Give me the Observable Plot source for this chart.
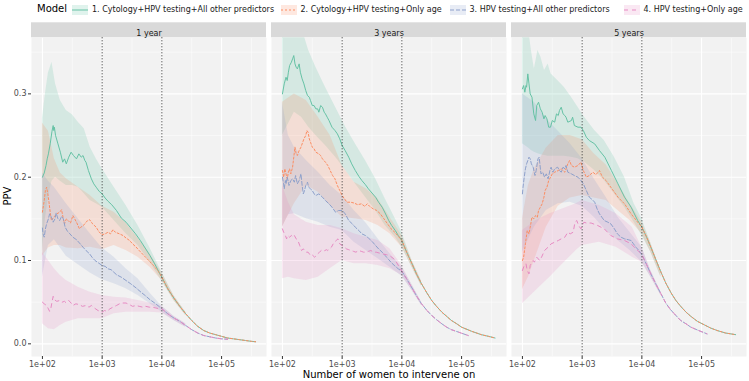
<!DOCTYPE html>
<html>
<head>
<meta charset="utf-8">
<script src="https://cdn.jsdelivr.net/npm/d3@7"></script>
<script src="https://cdn.jsdelivr.net/npm/@observablehq/plot@0.6"></script>
<style>
  body { margin: 0; background: #fff; font-family: "DejaVu Sans", sans-serif; }
  #fig { position: relative; width: 749px; height: 381px; overflow: hidden; background: #fff; }
  #legend { position: absolute; left: 0; top: 0; width: 749px; height: 20px; }
  .lg-title { position: absolute; left: 37px; top: 3px; font-size: 10px; color: #000; line-height: 12px; }
  .lg-item { position: absolute; top: 4px; height: 12px; display: flex; align-items: center; }
  .lg-item span { font-size: 8px; color: #1a1a1a; margin-left: 4px; white-space: nowrap; line-height: 12px; }
  #chart { position: absolute; left: 0; top: 20px; }
  #ylab { position: absolute; left: -8px; top: 190px; width: 32px; text-align: center; font-size: 10px; color: #000; transform: rotate(-90deg); line-height: 12px; }
  #xlab { position: absolute; left: 30px; top: 369px; width: 718px; text-align: center; font-size: 10px; color: #000; line-height: 12px; }
</style>
</head>
<body>
<div id="fig">
  <div id="legend"><div class="lg-title">Model</div></div>
  <div id="chart"></div>
  <div id="ylab">PPV</div>
  <div id="xlab">Number of women to intervene on</div>
</div>
<script>
// Facets (prediction horizon) and models
const horizons = ["1 year", "3 years", "5 years"];
const models = [
  "1. Cytology+HPV testing+All other predictors",
  "2. Cytology+HPV testing+Only age",
  "3. HPV testing+All other predictors",
  "4. HPV testing+Only age"
];
const palette = ["#66C2A5", "#FC8D62", "#8DA0CB", "#E78AC3"];
const dashes = [null, "2,2", "4,2", "4,4"];

// Tick values
const xTicks = [1e2, 1e3, 1e4, 1e5];
const xMinor = [10 ** 2.5, 10 ** 3.5, 10 ** 4.5, 10 ** 5.5];
const yTicks = [0, 0.1, 0.2, 0.3];
const yMinor = [0.05, 0.15, 0.25, 0.35];
const cutoffs = [1e3, 1e4];

// PPV curves: rows are [log10(number of women), PPV]
// ---- 1 year ----
const y1m1 = [[2.00,0.200],[2.03,0.205],[2.06,0.214],[2.08,0.222],[2.10,0.228],[2.13,0.240],[2.16,0.255],[2.18,0.262],[2.19,0.256],[2.20,0.260],[2.22,0.250],[2.26,0.240],[2.30,0.230],[2.34,0.218],[2.37,0.222],[2.40,0.216],[2.44,0.224],[2.48,0.230],[2.52,0.226],[2.57,0.222],[2.61,0.228],[2.65,0.224],[2.68,0.226],[2.71,0.220],[2.73,0.218],[2.77,0.208],[2.82,0.198],[2.86,0.192],[2.90,0.188],[2.95,0.183],[3.00,0.180],[3.05,0.175],[3.10,0.171],[3.16,0.167],[3.24,0.160],[3.32,0.151],[3.40,0.146],[3.48,0.139],[3.56,0.132],[3.64,0.124],[3.72,0.115],[3.80,0.106],[3.88,0.096],[3.96,0.085]];
const y1m2 = [[2.00,0.158],[2.03,0.172],[2.05,0.184],[2.07,0.188],[2.09,0.180],[2.11,0.170],[2.13,0.158],[2.15,0.148],[2.19,0.152],[2.24,0.156],[2.29,0.158],[2.32,0.161],[2.35,0.150],[2.37,0.144],[2.40,0.150],[2.43,0.148],[2.47,0.145],[2.51,0.154],[2.54,0.150],[2.57,0.146],[2.62,0.138],[2.66,0.141],[2.70,0.143],[2.74,0.147],[2.79,0.149],[2.84,0.144],[2.90,0.140],[2.95,0.134],[3.00,0.131],[3.05,0.132],[3.10,0.134],[3.14,0.132],[3.18,0.137],[3.22,0.134],[3.29,0.132],[3.35,0.130],[3.40,0.127],[3.46,0.124],[3.51,0.120],[3.57,0.116],[3.62,0.112],[3.70,0.106],[3.78,0.100],[3.86,0.094],[3.94,0.087]];
const y1m3 = [[2.00,0.139],[2.01,0.132],[2.03,0.128],[2.05,0.138],[2.07,0.144],[2.10,0.150],[2.12,0.156],[2.15,0.152],[2.18,0.146],[2.21,0.150],[2.23,0.157],[2.26,0.150],[2.29,0.148],[2.32,0.153],[2.35,0.150],[2.38,0.140],[2.42,0.135],[2.46,0.132],[2.51,0.128],[2.57,0.125],[2.62,0.121],[2.68,0.116],[2.73,0.112],[2.79,0.108],[2.83,0.104],[2.88,0.100],[2.94,0.097],[3.00,0.094],[3.05,0.093],[3.10,0.090],[3.15,0.089],[3.24,0.083],[3.32,0.080],[3.40,0.076],[3.48,0.072],[3.57,0.067],[3.65,0.062],[3.72,0.058],[3.80,0.053],[3.88,0.049],[3.95,0.045]];
const y1m4 = [[2.00,0.050],[2.03,0.048],[2.07,0.046],[2.10,0.042],[2.12,0.039],[2.14,0.042],[2.16,0.050],[2.18,0.057],[2.20,0.053],[2.24,0.051],[2.29,0.052],[2.33,0.050],[2.37,0.051],[2.40,0.049],[2.44,0.052],[2.48,0.049],[2.51,0.046],[2.56,0.048],[2.62,0.047],[2.67,0.045],[2.73,0.046],[2.78,0.044],[2.82,0.046],[2.87,0.043],[2.93,0.040],[3.00,0.038],[3.04,0.040],[3.08,0.039],[3.13,0.042],[3.18,0.044],[3.24,0.046],[3.29,0.048],[3.35,0.049],[3.40,0.049],[3.46,0.047],[3.51,0.045],[3.57,0.046],[3.62,0.045],[3.68,0.044],[3.73,0.045],[3.79,0.044],[3.84,0.044],[3.90,0.043],[3.96,0.042]];
// shared tails where models 1/2 and 3/4 coincide
const y1TailCyto = [[4.00,0.080],[4.10,0.066],[4.20,0.055],[4.30,0.045],[4.40,0.036],[4.50,0.028],[4.60,0.021],[4.70,0.016],[4.80,0.013],[4.90,0.011],[5.00,0.009],[5.10,0.007],[5.20,0.006],[5.30,0.005],[5.40,0.004],[5.50,0.003],[5.57,0.0025]];
const y1TailHpv = [[4.00,0.042],[4.10,0.036],[4.20,0.031],[4.30,0.027],[4.40,0.022],[4.50,0.017],[4.60,0.013],[4.70,0.010],[4.80,0.0085],[4.90,0.007],[5.00,0.006],[5.10,0.0055]];

// ---- 3 years ----
const y3m1 = [[2.00,0.300],[2.03,0.312],[2.06,0.320],[2.08,0.316],[2.10,0.326],[2.12,0.334],[2.15,0.338],[2.17,0.342],[2.19,0.346],[2.21,0.336],[2.23,0.332],[2.25,0.330],[2.28,0.336],[2.30,0.326],[2.33,0.318],[2.36,0.312],[2.39,0.304],[2.42,0.298],[2.45,0.296],[2.47,0.292],[2.50,0.286],[2.53,0.286],[2.56,0.282],[2.59,0.282],[2.61,0.278],[2.64,0.286],[2.67,0.284],[2.70,0.278],[2.72,0.276],[2.75,0.272],[2.78,0.268],[2.83,0.260],[2.88,0.256],[2.92,0.252],[2.96,0.246],[3.00,0.238],[3.05,0.232],[3.11,0.224],[3.16,0.216],[3.22,0.208],[3.28,0.201],[3.33,0.196],[3.39,0.191],[3.44,0.186],[3.50,0.181],[3.56,0.176],[3.61,0.170],[3.67,0.164],[3.72,0.157],[3.78,0.148],[3.83,0.142],[3.89,0.136],[3.94,0.130]];
const y3m2 = [[2.00,0.208],[2.02,0.200],[2.04,0.210],[2.06,0.204],[2.08,0.198],[2.10,0.206],[2.12,0.210],[2.14,0.204],[2.17,0.212],[2.19,0.224],[2.21,0.236],[2.23,0.228],[2.25,0.226],[2.28,0.232],[2.31,0.236],[2.33,0.240],[2.36,0.246],[2.39,0.250],[2.41,0.256],[2.43,0.254],[2.45,0.246],[2.47,0.242],[2.50,0.236],[2.53,0.234],[2.56,0.230],[2.61,0.228],[2.64,0.226],[2.67,0.222],[2.72,0.218],[2.76,0.214],[2.80,0.208],[2.84,0.202],[2.88,0.198],[2.92,0.190],[2.96,0.184],[3.00,0.178],[3.04,0.174],[3.08,0.170],[3.14,0.170],[3.20,0.169],[3.26,0.167],[3.32,0.168],[3.38,0.165],[3.42,0.168],[3.46,0.165],[3.52,0.162],[3.58,0.160],[3.64,0.156],[3.70,0.150],[3.76,0.144],[3.82,0.138],[3.88,0.134],[3.94,0.129]];
const y3m3 = [[2.00,0.200],[2.02,0.192],[2.03,0.186],[2.05,0.196],[2.06,0.192],[2.08,0.200],[2.10,0.194],[2.11,0.190],[2.14,0.196],[2.17,0.198],[2.20,0.194],[2.22,0.202],[2.25,0.192],[2.28,0.196],[2.31,0.204],[2.33,0.190],[2.35,0.180],[2.37,0.184],[2.39,0.190],[2.42,0.194],[2.44,0.188],[2.47,0.186],[2.50,0.184],[2.53,0.180],[2.56,0.178],[2.61,0.180],[2.67,0.176],[2.72,0.172],[2.78,0.168],[2.83,0.164],[2.89,0.158],[2.94,0.160],[3.00,0.160],[3.03,0.158],[3.06,0.155],[3.11,0.148],[3.17,0.144],[3.22,0.140],[3.28,0.136],[3.33,0.132],[3.39,0.130],[3.44,0.127],[3.50,0.123],[3.56,0.118],[3.61,0.114],[3.67,0.110],[3.72,0.106],[3.78,0.101],[3.83,0.097],[3.89,0.093],[3.94,0.090]];
const y3m4 = [[2.00,0.138],[2.02,0.134],[2.04,0.132],[2.07,0.126],[2.09,0.130],[2.12,0.128],[2.15,0.130],[2.18,0.128],[2.20,0.130],[2.23,0.126],[2.26,0.124],[2.29,0.118],[2.32,0.112],[2.35,0.114],[2.37,0.112],[2.40,0.110],[2.43,0.110],[2.46,0.107],[2.48,0.108],[2.51,0.106],[2.54,0.104],[2.57,0.106],[2.59,0.108],[2.62,0.110],[2.65,0.112],[2.68,0.111],[2.71,0.112],[2.74,0.113],[2.76,0.112],[2.79,0.114],[2.82,0.116],[2.85,0.120],[2.87,0.122],[2.90,0.124],[2.93,0.126],[2.96,0.120],[3.00,0.118],[3.04,0.116],[3.07,0.114],[3.11,0.113],[3.15,0.112],[3.19,0.111],[3.23,0.110],[3.28,0.112],[3.32,0.111],[3.36,0.110],[3.40,0.110],[3.44,0.111],[3.48,0.112],[3.53,0.110],[3.57,0.110],[3.62,0.109],[3.68,0.108],[3.74,0.107],[3.79,0.106],[3.85,0.103],[3.90,0.099],[3.95,0.093]];
const y3TailCyto = [[4.00,0.124],[4.08,0.110],[4.17,0.096],[4.25,0.083],[4.33,0.072],[4.42,0.061],[4.50,0.052],[4.58,0.045],[4.67,0.038],[4.75,0.033],[4.83,0.028],[4.92,0.024],[5.00,0.020],[5.17,0.015],[5.33,0.011],[5.45,0.009],[5.56,0.007]];
const y3TailHpv = [[4.00,0.087],[4.08,0.078],[4.17,0.067],[4.25,0.057],[4.33,0.048],[4.42,0.040],[4.50,0.034],[4.58,0.029],[4.67,0.024],[4.75,0.020],[4.83,0.017],[4.95,0.014],[5.11,0.010]];

// ---- 5 years ----
const y5m1 = [[2.00,0.306],[2.02,0.310],[2.04,0.302],[2.06,0.310],[2.07,0.308],[2.09,0.324],[2.11,0.312],[2.13,0.300],[2.16,0.296],[2.19,0.276],[2.22,0.268],[2.24,0.286],[2.27,0.290],[2.30,0.282],[2.33,0.278],[2.36,0.270],[2.38,0.274],[2.41,0.270],[2.44,0.260],[2.47,0.260],[2.50,0.268],[2.54,0.266],[2.57,0.276],[2.60,0.274],[2.62,0.280],[2.65,0.284],[2.68,0.276],[2.71,0.274],[2.73,0.272],[2.76,0.266],[2.82,0.268],[2.84,0.272],[2.87,0.262],[2.93,0.260],[2.98,0.260],[3.02,0.256],[3.07,0.248],[3.12,0.244],[3.21,0.240],[3.29,0.232],[3.38,0.224],[3.49,0.208],[3.60,0.192],[3.71,0.176],[3.82,0.164],[3.93,0.148]];
const y5m2 = [[2.00,0.100],[2.02,0.104],[2.05,0.120],[2.08,0.136],[2.11,0.132],[2.13,0.140],[2.16,0.152],[2.19,0.150],[2.22,0.154],[2.25,0.152],[2.27,0.160],[2.30,0.164],[2.33,0.168],[2.36,0.176],[2.38,0.184],[2.41,0.188],[2.44,0.196],[2.47,0.200],[2.50,0.204],[2.54,0.206],[2.60,0.208],[2.65,0.210],[2.71,0.206],[2.76,0.216],[2.79,0.220],[2.82,0.214],[2.87,0.212],[2.93,0.214],[2.98,0.218],[3.02,0.208],[3.07,0.200],[3.12,0.202],[3.18,0.206],[3.23,0.203],[3.29,0.208],[3.34,0.200],[3.40,0.196],[3.48,0.188],[3.60,0.176],[3.71,0.168],[3.82,0.156],[3.93,0.146]];
const y5m3 = [[2.00,0.180],[2.01,0.188],[2.03,0.200],[2.05,0.210],[2.07,0.216],[2.09,0.220],[2.11,0.224],[2.13,0.222],[2.15,0.216],[2.18,0.212],[2.21,0.202],[2.23,0.208],[2.26,0.222],[2.28,0.224],[2.31,0.204],[2.34,0.206],[2.37,0.200],[2.40,0.204],[2.43,0.198],[2.46,0.208],[2.48,0.212],[2.51,0.206],[2.54,0.210],[2.59,0.212],[2.62,0.208],[2.65,0.206],[2.68,0.212],[2.71,0.210],[2.73,0.214],[2.76,0.206],[2.82,0.204],[2.87,0.202],[2.93,0.200],[2.98,0.196],[3.02,0.192],[3.07,0.184],[3.12,0.176],[3.17,0.173],[3.21,0.170],[3.25,0.162],[3.29,0.156],[3.33,0.152],[3.37,0.148],[3.43,0.146],[3.48,0.144],[3.54,0.138],[3.59,0.132],[3.65,0.128],[3.71,0.126],[3.77,0.125],[3.82,0.124],[3.86,0.120],[3.90,0.116],[3.95,0.112]];
const y5m4 = [[2.00,0.088],[2.03,0.094],[2.06,0.096],[2.08,0.088],[2.11,0.084],[2.13,0.094],[2.16,0.098],[2.18,0.100],[2.20,0.098],[2.24,0.104],[2.29,0.100],[2.32,0.104],[2.37,0.112],[2.43,0.116],[2.48,0.120],[2.54,0.122],[2.60,0.124],[2.65,0.126],[2.71,0.128],[2.76,0.134],[2.80,0.132],[2.85,0.134],[2.88,0.146],[2.91,0.148],[2.94,0.142],[2.98,0.138],[3.00,0.142],[3.03,0.146],[3.07,0.145],[3.15,0.145],[3.26,0.142],[3.37,0.138],[3.48,0.130],[3.59,0.126],[3.71,0.124],[3.82,0.120],[3.90,0.114],[3.96,0.110]];
const y5TailCyto = [[4.00,0.140],[4.08,0.128],[4.15,0.116],[4.24,0.100],[4.32,0.086],[4.40,0.073],[4.49,0.061],[4.57,0.052],[4.65,0.045],[4.74,0.038],[4.82,0.033],[4.93,0.027],[5.04,0.023],[5.15,0.019],[5.26,0.016],[5.40,0.013],[5.57,0.011]];
const y5TailHpv = [[4.00,0.107],[4.08,0.095],[4.15,0.084],[4.24,0.071],[4.32,0.060],[4.40,0.049],[4.48,0.041],[4.57,0.034],[4.65,0.028],[4.74,0.024],[4.82,0.020],[4.95,0.016],[5.09,0.012]];

// Confidence bands: rows are [log10(number of women), lower, upper]
const y1b1 = [[2.00,0.110,0.270],[2.05,0.150,0.300],[2.10,0.175,0.325],[2.16,0.195,0.338],[2.22,0.200,0.312],[2.30,0.195,0.292],[2.40,0.190,0.280],[2.50,0.190,0.275],[2.60,0.188,0.266],[2.70,0.180,0.258],[2.80,0.172,0.236],[2.90,0.168,0.222],[3.00,0.164,0.210],[3.20,0.148,0.188],[3.40,0.132,0.166],[3.60,0.118,0.142],[3.80,0.098,0.115],[4.00,0.075,0.086],[4.20,0.052,0.058],[4.40,0.034,0.038]];
const y1b2 = [[2.00,0.105,0.265],[2.10,0.115,0.255],[2.20,0.118,0.222],[2.30,0.118,0.205],[2.40,0.115,0.198],[2.60,0.114,0.188],[2.80,0.116,0.178],[3.00,0.113,0.165],[3.20,0.118,0.158],[3.40,0.112,0.145],[3.60,0.104,0.127],[3.80,0.092,0.108],[4.00,0.076,0.085],[4.20,0.052,0.058],[4.40,0.034,0.038]];
const y1b3 = [[2.00,0.080,0.205],[2.10,0.118,0.195],[2.20,0.125,0.188],[2.30,0.115,0.178],[2.40,0.105,0.168],[2.60,0.095,0.150],[2.80,0.085,0.132],[3.00,0.077,0.115],[3.20,0.072,0.104],[3.40,0.066,0.090],[3.60,0.058,0.078],[3.80,0.048,0.061],[4.00,0.038,0.045],[4.20,0.028,0.033],[4.40,0.020,0.024]];
const y1b4 = [[2.00,0.024,0.110],[2.10,0.018,0.100],[2.20,0.017,0.090],[2.30,0.022,0.082],[2.40,0.026,0.076],[2.60,0.030,0.068],[2.80,0.030,0.062],[3.00,0.030,0.058],[3.20,0.036,0.056],[3.40,0.038,0.055],[3.60,0.038,0.052],[3.80,0.038,0.049],[4.00,0.037,0.045],[4.20,0.028,0.033],[4.40,0.020,0.024]];
const y3b1 = [[2.00,0.250,0.380],[2.20,0.278,0.380],[2.32,0.272,0.380],[2.44,0.260,0.352],[2.56,0.250,0.332],[2.72,0.238,0.308],[2.89,0.224,0.284],[3.06,0.208,0.260],[3.22,0.192,0.240],[3.39,0.176,0.220],[3.56,0.160,0.198],[3.72,0.142,0.174],[3.89,0.128,0.150],[4.00,0.116,0.134],[4.17,0.092,0.100],[4.33,0.069,0.075]];
const y3b2 = [[2.00,0.140,0.290],[2.20,0.168,0.300],[2.40,0.190,0.292],[2.60,0.182,0.272],[2.80,0.166,0.250],[3.00,0.152,0.214],[3.20,0.150,0.194],[3.40,0.148,0.186],[3.60,0.142,0.174],[3.80,0.132,0.152],[4.00,0.116,0.130],[4.17,0.092,0.100],[4.33,0.069,0.075]];
const y3b3 = [[2.00,0.140,0.290],[2.10,0.155,0.250],[2.20,0.156,0.236],[2.40,0.150,0.220],[2.60,0.146,0.206],[2.80,0.140,0.190],[3.00,0.136,0.178],[3.20,0.122,0.160],[3.40,0.112,0.145],[3.60,0.102,0.126],[3.80,0.092,0.108],[4.00,0.081,0.092],[4.17,0.064,0.071],[4.33,0.046,0.050]];
const y3b4 = [[2.00,0.078,0.190],[2.10,0.080,0.170],[2.20,0.078,0.155],[2.40,0.076,0.146],[2.60,0.080,0.142],[2.80,0.090,0.142],[3.00,0.100,0.138],[3.20,0.096,0.132],[3.40,0.096,0.128],[3.60,0.094,0.124],[3.80,0.090,0.114],[4.00,0.082,0.094],[4.17,0.064,0.071],[4.33,0.046,0.050]];
const y5b1 = [[2.00,0.240,0.380],[2.10,0.235,0.380],[2.15,0.232,0.352],[2.20,0.230,0.330],[2.26,0.228,0.352],[2.31,0.227,0.344],[2.37,0.226,0.328],[2.43,0.225,0.336],[2.48,0.225,0.324],[2.59,0.225,0.316],[2.70,0.225,0.308],[2.82,0.224,0.296],[2.93,0.222,0.284],[3.04,0.218,0.272],[3.21,0.208,0.256],[3.37,0.196,0.244],[3.54,0.180,0.224],[3.71,0.164,0.200],[3.87,0.146,0.168],[4.00,0.130,0.150],[4.15,0.110,0.121],[4.32,0.080,0.087]];
const y5b2 = [[2.00,0.065,0.150],[2.10,0.080,0.190],[2.20,0.100,0.210],[2.40,0.140,0.235],[2.60,0.165,0.250],[2.80,0.175,0.250],[3.00,0.178,0.245],[3.20,0.175,0.228],[3.40,0.172,0.215],[3.60,0.160,0.192],[3.80,0.148,0.168],[4.00,0.132,0.146],[4.15,0.110,0.121],[4.32,0.080,0.087]];
const y5b3 = [[2.00,0.110,0.300],[2.20,0.140,0.290],[2.40,0.160,0.270],[2.60,0.168,0.255],[2.80,0.170,0.240],[3.00,0.165,0.222],[3.20,0.152,0.198],[3.40,0.136,0.176],[3.60,0.124,0.152],[3.80,0.112,0.134],[4.00,0.098,0.116],[4.15,0.080,0.088],[4.32,0.058,0.062]];
const y5b4 = [[2.00,0.048,0.136],[2.23,0.064,0.148],[2.46,0.080,0.156],[2.68,0.096,0.162],[2.90,0.112,0.168],[3.00,0.118,0.172],[3.29,0.122,0.166],[3.57,0.116,0.156],[3.84,0.104,0.140],[4.00,0.098,0.116],[4.15,0.080,0.088],[4.32,0.058,0.062]];

// ---- assemble tidy tables ----
const curveRows = (horizon, model, parts) =>
  parts.flat().map(([e, v]) => ({horizon, model, n: 10 ** e, ppv: v}));
const bandRows = (horizon, model, rows) =>
  rows.map(([e, lo, hi]) => ({horizon, model, n: 10 ** e, lo, hi}));

const curves = [
  curveRows(horizons[0], models[0], [y1m1, y1TailCyto]),
  curveRows(horizons[0], models[1], [y1m2, y1TailCyto]),
  curveRows(horizons[0], models[2], [y1m3, y1TailHpv]),
  curveRows(horizons[0], models[3], [y1m4, y1TailHpv]),
  curveRows(horizons[1], models[0], [y3m1, y3TailCyto]),
  curveRows(horizons[1], models[1], [y3m2, y3TailCyto]),
  curveRows(horizons[1], models[2], [y3m3, y3TailHpv]),
  curveRows(horizons[1], models[3], [y3m4, y3TailHpv]),
  curveRows(horizons[2], models[0], [y5m1, y5TailCyto]),
  curveRows(horizons[2], models[1], [y5m2, y5TailCyto]),
  curveRows(horizons[2], models[2], [y5m3, y5TailHpv]),
  curveRows(horizons[2], models[3], [y5m4, y5TailHpv])
].flat();

const bands = [
  bandRows(horizons[0], models[0], y1b1), bandRows(horizons[0], models[1], y1b2),
  bandRows(horizons[0], models[2], y1b3), bandRows(horizons[0], models[3], y1b4),
  bandRows(horizons[1], models[0], y3b1), bandRows(horizons[1], models[1], y3b2),
  bandRows(horizons[1], models[2], y3b3), bandRows(horizons[1], models[3], y3b4),
  bandRows(horizons[2], models[0], y5b1), bandRows(horizons[2], models[1], y5b2),
  bandRows(horizons[2], models[2], y5b3), bandRows(horizons[2], models[3], y5b4)
].flat();

// ---- layout ----
const W = 749, H = 348, mTop = 17.3, mBottom = 12, mLeft = 30, mRight = 1;
const xDomain = [10 ** 1.817, 10 ** 5.752];
const yDomain = [-0.0152, 0.3673];
const stripPx = 15;
const stripUnits = stripPx * (yDomain[1] - yDomain[0]) / (H - mTop - mBottom);
const xFormat = d => "1e+" + String(Math.round(Math.log10(d))).padStart(2, "0");

const marks = [
  Plot.frame({fill: "#F2F2F2", stroke: null}),
  Plot.ruleX(xMinor, {stroke: "#fff", strokeWidth: 0.5}),
  Plot.ruleY(yMinor, {stroke: "#fff", strokeWidth: 0.5}),
  Plot.ruleX(xTicks, {stroke: "#fff", strokeWidth: 1.1}),
  Plot.ruleY(yTicks, {stroke: "#fff", strokeWidth: 1.1}),
  // facet strips
  Plot.rect(horizons, {fx: d => d, y1: yDomain[1], y2: yDomain[1] + stripUnits, fill: "#D9D9D9"}),
  Plot.text(horizons, {fx: d => d, text: d => d, frameAnchor: "top", dy: -stripPx / 2, fontSize: 8, fill: "#1A1A1A"})
];
models.forEach((m, i) => {
  marks.push(Plot.areaY(bands.filter(d => d.model === m), {
    x: "n", y1: "lo", y2: "hi", fx: "horizon",
    fill: palette[i], fillOpacity: 0.2, clip: true
  }));
});
models.forEach((m, i) => {
  marks.push(Plot.line(curves.filter(d => d.model === m), {
    x: "n", y: "ppv", fx: "horizon",
    stroke: palette[i], strokeWidth: 1, strokeDasharray: dashes[i] ?? undefined
  }));
});
marks.push(
  Plot.ruleX(cutoffs, {stroke: "#222", strokeWidth: 1, strokeDasharray: "1,2"}),
  Plot.axisX({ticks: xTicks, tickFormat: xFormat, tickSize: 3, tickPadding: 2, label: null, stroke: "#333", fill: "#4D4D4D", fontSize: 8}),
  Plot.axisY({ticks: yTicks, tickFormat: d3.format(".1f"), tickSize: 3, tickPadding: 2, label: null, stroke: "#333", fill: "#4D4D4D", fontSize: 8})
);

const chart = Plot.plot({
  width: W, height: H,
  marginTop: mTop, marginBottom: mBottom, marginLeft: mLeft, marginRight: mRight,
  style: {fontFamily: "DejaVu Sans, sans-serif", fontSize: "8px", background: "#fff", color: "#4D4D4D"},
  fx: {domain: horizons, paddingInner: 0.02, paddingOuter: 0, axis: null, label: null},
  x: {type: "log", domain: xDomain},
  y: {domain: yDomain},
  marks
});
document.getElementById("chart").appendChild(chart);

// ---- legend ----
const legend = document.getElementById("legend");
const legendLeft = [72, 280.5, 449.5, 623.5];
models.forEach((m, i) => {
  const item = document.createElement("div");
  item.className = "lg-item";
  item.style.left = legendLeft[i] + "px";
  const dash = dashes[i] ? ` stroke-dasharray="${dashes[i]}"` : "";
  item.innerHTML =
    `<svg width="16" height="10"><rect width="16" height="10" fill="${palette[i]}" fill-opacity="0.2"/>` +
    `<line x1="0" x2="16" y1="5" y2="5" stroke="${palette[i]}" stroke-width="1"${dash}/></svg>` +
    `<span>${m}</span>`;
  legend.appendChild(item);
});
</script>
</body>
</html>
